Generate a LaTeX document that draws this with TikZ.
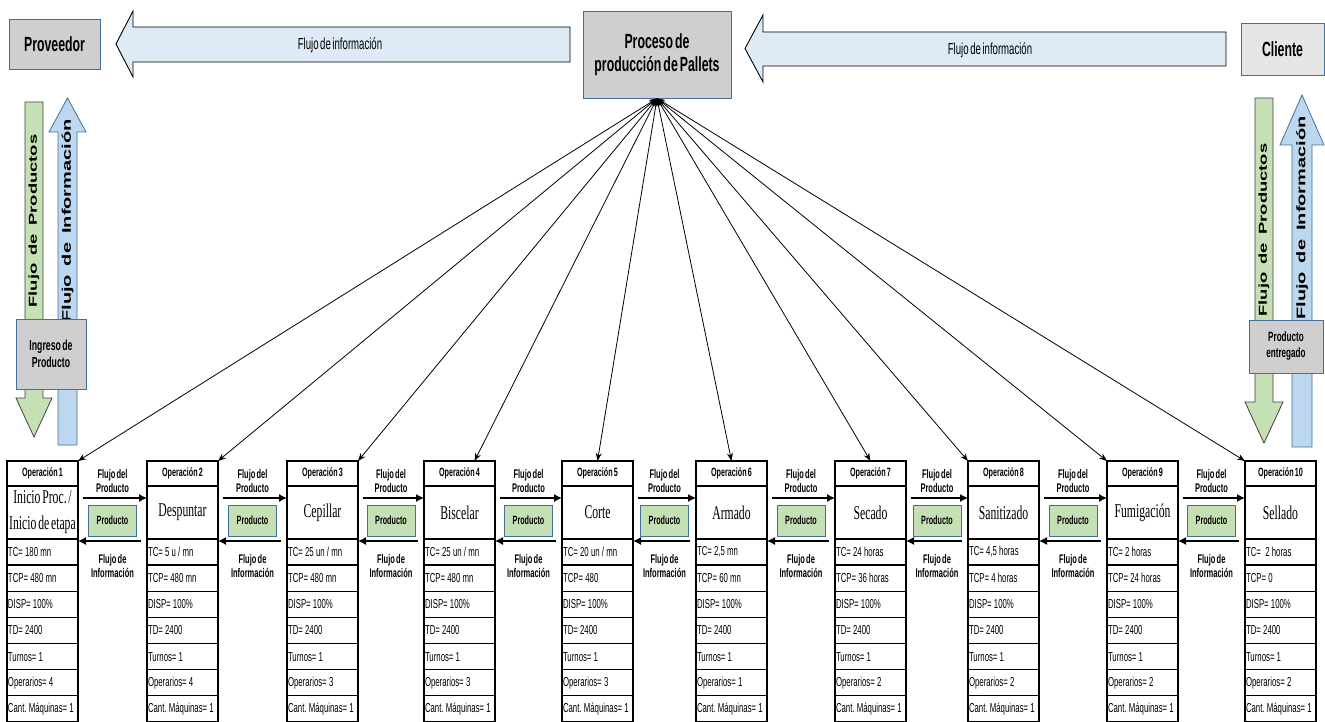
\documentclass[tikz,border=0pt]{standalone}
\usepackage{fontspec}
\setmainfont{Liberation Sans}[FakeStretch=0.6,WordSpace=0.6]
\newfontfamily\serifcond{Liberation Serif}[FakeStretch=0.6,WordSpace=0.6]
\newfontfamily\ancha{Liberation Sans}[FakeStretch=1.6,WordSpace=1.6]
\frenchspacing
\usetikzlibrary{positioning,calc,arrows.meta}
\definecolor{grisbox}{HTML}{D0CECE}
\definecolor{grisclaro}{HTML}{E7E6E6}
\definecolor{bordeazul}{HTML}{41719C}
\definecolor{azulclaro}{HTML}{DEEBF7}
\definecolor{azulmed}{HTML}{BDD7EE}
\definecolor{verde}{HTML}{C5E0B4}
\tikzset{caja/.style={draw=bordeazul,fill=grisbox,line width=0.8pt,align=center,inner sep=2pt},
	 cabecera/.style={draw,line width=1.3pt,outer sep=0pt,anchor=north west,minimum width=71,minimum height=25,
	   inner sep=1pt,font=\bfseries\fontsize{12}{13}\selectfont},
	 nombre/.style={draw,line width=1.3pt,outer sep=0pt,minimum width=71,minimum height=53,
	   inner xsep=0pt,inner ysep=1pt,align=center,font=\serifcond\fontsize{19.5}{26}\selectfont},
	 fila/.style={draw,line width=1.3pt,outer sep=0pt,minimum width=71,minimum height=26.14,inner xsep=1pt,
	   inner ysep=1pt,font=\fontsize{13}{15}\selectfont},
	 producto/.style={draw=bordeazul,fill=verde,line width=1pt,minimum width=48,minimum height=31,
	   inner sep=1pt,font=\bfseries\fontsize{12}{13}\selectfont},
	 etiqueta/.style={align=center,inner sep=0pt,font=\bfseries\fontsize{12.5}{13.5}\selectfont},
	 flujop/.style={line width=1.3pt,-{Latex[length=8pt,width=8pt]}},
	 enlace/.style={line width=0.8pt,{Stealth[length=8pt,width=6pt]}-{Stealth[length=8pt,width=6pt]}},
	 bloque/.style={draw,fill=azulclaro,line width=0.9pt},
	 textobloque/.style={font=\fontsize{16}{18}\selectfont},
	 flechaverde/.style={draw=black!75,fill=verde,line width=0.8pt},
	 flechaazul/.style={draw=bordeazul,fill=azulmed,line width=0.8pt},
	 textovertical/.style={rotate=90,inner sep=0pt,font=\ancha\bfseries}
	 }
% texto de una fila, alineado a la izquierda
\newcommand{\celda}[1]{\makebox[69pt][l]{\spaceskip=2.2pt plus 1pt\relax #1}}
% una columna de operacion: nombre, x, numero, actividad, TC, TCP, operarios
\newcommand{\operacion}[7]{%
	\node[cabecera] (#1h) at (#2,461) {Operación #3};
	\node[nombre] (#1n) [below=0pt of #1h] {#4};
	\node[fila] (#1a) [below=0pt of #1n] {\celda{TC= #5}};
	\node[fila] (#1b) [below=0pt of #1a] {\celda{TCP= #6}};
	\node[fila] (#1c) [below=0pt of #1b] {\celda{DISP= 100\%}};
	\node[fila] (#1d) [below=0pt of #1c] {\celda{TD= 2400}};
	\node[fila] (#1e) [below=0pt of #1d] {\celda{Turnos= 1}};
	\node[fila] (#1f) [below=0pt of #1e] {\celda{Operarios= #7}};
	\node[fila] (#1g) [below=0pt of #1f] {\celda{Cant. Máquinas= 1}};
}
% flujos entre dos operaciones
\newcommand{\flujo}[2]{%
	\draw[flujop] ([xshift=5pt,yshift=-12pt]#1n.north east) -- ([yshift=-12pt]#2n.north west);
	\draw[flujop] ([xshift=-6pt,yshift=-2pt]#2n.south west) -- ([yshift=-2pt]#1n.south east);
	\node[producto] (#1p) at ($(#1n.east)!0.5!(#2n.west)+(0,8)$) {Producto};
	\node[etiqueta] (#1fp) at ($(#1n.north east)!0.5!(#2n.north west)+(0,-5)$) {Flujo del\\Producto};
	\node[etiqueta] (#1fi) at ($(#1n.south east)!0.5!(#2n.south west)+(0,27)$) {Flujo de\\Información};
}

\begin{document}
\begin{tikzpicture}[x=1pt,y=-1pt]
	\useasboundingbox (0,0) rectangle (1325,722);
	% flechas de informacion arriba
	\draw[bloque] (116,44) -- (133,11) -- (133,27) -- (570,27) -- (570,62) -- (133,62) -- (133,77) -- cycle;
	\draw[bloque] (745,48.5) -- (763,15) -- (763,32) -- (1226,32) -- (1226,66) -- (763,66) -- (763,82) -- cycle;
	\node[textobloque] (info1) at (340,45) {Flujo de información};
	\node[textobloque] (info2) at (990,50) {Flujo de información};
	\node[caja,font=\bfseries\fontsize{20.5}{24}\selectfont,minimum width=91,minimum height=50] (proveedor) at (54.5,44) {Proveedor};
	\node[caja,font=\bfseries\fontsize{20.5}{23}\selectfont,minimum width=148,minimum height=87] (proceso) at (657,54.5) {Proceso de\\producción de Pallets};
	\node[caja,fill=grisclaro,font=\bfseries\fontsize{20.5}{24}\selectfont,minimum width=83,minimum height=52] (cliente) at (1282.5,49) {Cliente};
	% flujos verticales del proveedor
	\draw[flechaverde] (25,102) -- (43,102) -- (43,398) -- (52,398) -- (34,437) -- (16,398) -- (25,398) -- cycle;
	\draw[flechaazul] (58,445) -- (58,132) -- (49,132) -- (67.5,98) -- (86,132) -- (77,132) -- (77,445) -- cycle;
	\node[textovertical,font=\ancha\bfseries\fontsize{11.5}{13}\selectfont] (prod1) at (34,221) {Flujo de Productos};
	\node[textovertical,font=\ancha\bfseries\fontsize{12.5}{14}\selectfont] (inf1) at (67.5,221) {Flujo de Información};
	\node[caja,font=\bfseries\fontsize{14.5}{17}\selectfont,minimum width=70,minimum height=70] (ingreso) at (51,354) {Ingreso de\\Producto};
	% flujos verticales del cliente
	\draw[flechaverde] (1255,98) -- (1273,98) -- (1273,402) -- (1283,402) -- (1264,443) -- (1245,402) -- (1255,402) -- cycle;
	\draw[flechaazul] (1292,447) -- (1292,145) -- (1280,145) -- (1302,95) -- (1324,145) -- (1312,145) -- (1312,447) -- cycle;
	\node[textovertical,font=\ancha\bfseries\fontsize{11.5}{13}\selectfont] (prod2) at (1264,230) {Flujo de Productos};
	\node[textovertical,font=\ancha\bfseries\fontsize{12.5}{14}\selectfont] (inf2) at (1302,218) {Flujo de Información};
	\node[caja,font=\bfseries\fontsize{13.5}{16}\selectfont,minimum width=74,minimum height=53] (entregado) at (1286,346.5) {Producto\\entregado};
	% operaciones
	\operacion{op1}{7}{1}{Inicio Proc. /\\Inicio de etapa}{180 mn}{480 mn}{4}
	\operacion{op2}{147}{2}{Despuntar}{5 u / mn}{480 mn}{4}
	\operacion{op3}{287}{3}{Cepillar}{25 un / mn}{480 mn}{3}
	\operacion{op4}{424}{4}{Biscelar}{25 un / mn}{480 mn}{3}
	\operacion{op5}{562}{5}{Corte}{20 un / mn}{480}{3}
	\operacion{op6}{696}{6}{Armado}{2,5 mn}{60 mn}{1}
	\operacion{op7}{835}{7}{Secado}{24 horas}{36 horas}{2}
	\operacion{op8}{968}{8}{Sanitizado}{4,5 horas}{4 horas}{2}
	\operacion{op9}{1107}{9}{Fumigación}{2 horas}{24 horas}{2}
	\operacion{op10}{1245}{10}{Sellado}{\ 2 horas}{0}{2}
	\flujo{op1}{op2} \flujo{op2}{op3} \flujo{op3}{op4}
	\flujo{op4}{op5} \flujo{op5}{op6} \flujo{op6}{op7}
	\flujo{op7}{op8} \flujo{op8}{op9} \flujo{op9}{op10}
	% enlaces con el proceso
	\draw[enlace] (proceso.south) to (op1h.north east);
	\draw[enlace] (proceso.south) to (op2h.north east);
	\draw[enlace] (proceso.south) to (op3h.north east);
	\draw[enlace] (proceso.south) to ([xshift=15pt]op4h.north);
	\draw[enlace] (proceso.south) to (op5h.north);
	\draw[enlace] (proceso.south) to (op6h.north);
	\draw[enlace] (proceso.south) to (op7h.north);
	\draw[enlace] (proceso.south) to (op8h.north west);
	\draw[enlace] (proceso.south) to (op9h.north west);
	\draw[enlace] (proceso.south) to (op10h.north west);
\end{tikzpicture}
\end{document}
